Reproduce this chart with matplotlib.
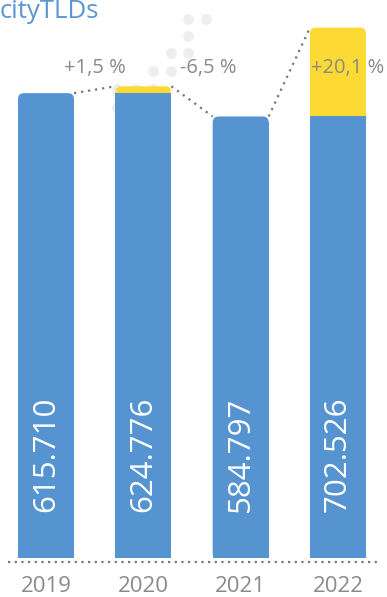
import matplotlib
matplotlib.use("Agg")
import matplotlib.pyplot as plt
from matplotlib.patches import FancyBboxPatch

years = ["2019", "2020", "2021", "2022"]
values = [615710, 624776, 584797, 702526]
growth_labels = ["+1,5 %", "-6,5 %", "+20,1 %"]
title = "cityTLDs"

BLUE = "#5594d1"
YELLOW = "#fdd933"
GRAY = "#8a8a8a"
DOT = "#eceef2"

W, H = 387, 597
fig = plt.figure(figsize=(W / 100, H / 100), dpi=100)

# axes: baseline at pixel 558, scale ~0.755 px per 1000
base_px = 558
ppu = 0.755 / 1000.0
ymax = base_px / ppu
x0_px, step_px = 46.0, 97.33
xmin = -x0_px / step_px
xmax = (W - x0_px) / step_px
ax = fig.add_axes([0, (H - base_px) / H, 1, base_px / H])
ax.set_xlim(xmin, xmax)
ax.set_ylim(0, ymax)
for s in ax.spines.values():
    s.set_visible(False)
ax.set_yticks([])
ax.patch.set_alpha(0)

# decorative logo dots (pixel positions)
dots_px = [(188, 19), (206, 19), (188, 36), (171, 53), (188, 53), (153, 71),
           (171, 71), (117, 89), (135, 89), (153, 89), (117, 107)]
ax.scatter([xmin + px / step_px for px, _ in dots_px],
           [(base_px - py) / ppu for _, py in dots_px],
           s=62, color=DOT, linewidths=0, zorder=0.5, clip_on=False)

bw = 56 / step_px
r_px = 6.0
rx = r_px / step_px
ry = r_px / ppu
aspect = (1 / ppu) / (1 / step_px)


def rounded_bar(x, bottom, top, color):
    ax.bar(x, max(top - bottom - ry, 0), bottom=bottom, width=bw, color=color,
           linewidth=0, zorder=2)
    p = FancyBboxPatch((x - bw / 2, bottom), bw, top - bottom,
                       boxstyle=f"round,pad=0,rounding_size={rx}",
                       mutation_aspect=aspect, facecolor=color,
                       edgecolor="none", zorder=2)
    ax.add_patch(p)


tops = []
for i, v in enumerate(values):
    prev = values[i - 1] if i > 0 else None
    if prev is not None and v > prev:
        ax.bar(i, prev, width=bw, color=BLUE, linewidth=0, zorder=2.1)
        rounded_bar(i, prev, v, YELLOW)
    else:
        rounded_bar(i, 0, v, BLUE)
    tops.append(v)
    ax.text(i, 46 / ppu, f"{v:,}".replace(",", "."), rotation=90,
            ha="center", va="bottom", color="white", fontsize=22.5,
            family="Open Sans", zorder=3)

# dotted connectors
for i in range(len(values) - 1):
    ax.plot([i + bw / 2, i + 1 - bw / 2], [tops[i], tops[i + 1]],
            linestyle=(0, (1, 2.2)), color="#777777", linewidth=1.6,
            zorder=1)

# growth labels
label_x = [0.5, 1.67, 3.1]
for lx, lab in zip(label_x, growth_labels):
    ax.text(lx, (base_px - 68) / ppu, lab, ha="center", va="center",
            color=GRAY, fontsize=14.5, family="Open Sans", zorder=4)

# baseline dotted
ax.plot([8 / step_px + xmin, 377 / step_px + xmin], [-4 / ppu, -4 / ppu],
        linestyle=(0, (1, 2)), color="#777777", linewidth=1.6,
        clip_on=False, zorder=1)

ax.set_xticks(range(len(years)))
ax.set_xticklabels(years, color=GRAY, fontsize=16, family="Open Sans")
ax.tick_params(axis="x", length=0, pad=13)

fig.text(0.0, 1 + 1 / H, title, ha="left", va="top", color="#5a96d2",
         fontsize=18.5, family="Open Sans")

fig.savefig("out.png", dpi=100)
